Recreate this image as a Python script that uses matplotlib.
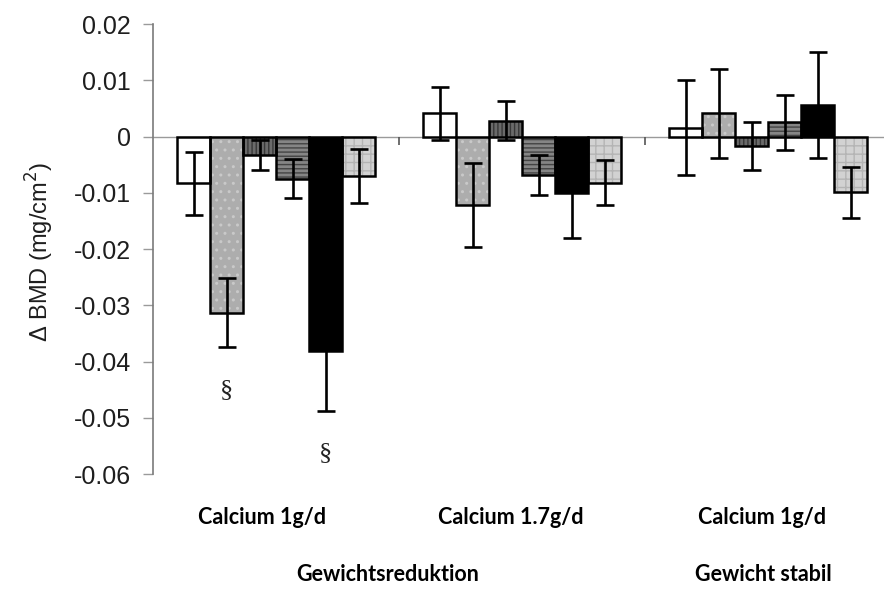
import numpy as np
import matplotlib
matplotlib.use("Agg")
import matplotlib.pyplot as plt
from matplotlib.ticker import FixedLocator, FixedFormatter

# Change in bone mineral density per group (mg/cm^2), six subgroups per condition
groups = ["Calcium 1g/d", "Calcium 1.7g/d", "Calcium 1g/d"]
conditions = ["Gewichtsreduktion", "Gewicht stabil"]

s1_mean = [-0.0083, 0.0041, 0.0016]
s1_err = [0.0056, 0.0047, 0.0085]
s2_mean = [-0.0313, -0.0122, 0.0041]
s2_err = [0.0062, 0.0075, 0.0079]
s3_mean = [-0.0033, 0.0028, -0.0017]
s3_err = [0.0027, 0.0035, 0.0042]
s4_mean = [-0.0075, -0.0068, 0.0025]
s4_err = [0.0035, 0.0036, 0.0049]
s5_mean = [-0.0382, -0.0100, 0.0056]
s5_err = [0.0106, 0.0080, 0.0094]
s6_mean = [-0.0071, -0.0082, -0.0099]
s6_err = [0.0048, 0.0040, 0.0045]

# significance markers: (group index, series index)
marked = [(0, 1), (0, 4)]

yticks = [0.02, 0.01, 0, -0.01, -0.02, -0.03, -0.04, -0.05, -0.06]
ytick_labels = ["0.02", "0.01", "0", "-0.01", "-0.02", "-0.03", "-0.04", "-0.05", "-0.06"]

means = [s1_mean, s2_mean, s3_mean, s4_mean, s5_mean, s6_mean]
errs = [s1_err, s2_err, s3_err, s4_err, s5_err, s6_err]

# fill colour, hatch pattern, hatch colour for each subgroup
styles = [
    ("white", "", "white"),
    ("#adadad", "..", "#c9c9c9"),
    ("#6a6a6a", "||||", "#383838"),
    ("#858585", "----", "#444444"),
    ("black", "", "black"),
    ("#d2d2d2", "++", "#b4b4b4"),
]

plt.rcParams["hatch.linewidth"] = 1.0

fig = plt.figure(figsize=(8.84, 5.89), dpi=100)
ax = fig.add_axes([0.1731, 0.1952, 0.8269, 0.764])

x = np.arange(len(groups))
bw = 0.134
for i, (m, e, (fc, hatch, hc)) in enumerate(zip(means, errs, styles)):
    xs = x + (i - 2.5) * bw
    ax.bar(xs, m, bw, color=fc, edgecolor=hc, hatch=hatch, linewidth=0, zorder=2)
    ax.bar(xs, m, bw, facecolor="none", edgecolor="black", linewidth=1.8, zorder=3)
    ax.errorbar(xs, m, yerr=e, fmt="none", ecolor="black", elinewidth=1.9,
                capsize=6.5, capthick=1.9, zorder=4)

for g, s in marked:
    xs = x[g] + (s - 2.5) * bw
    y = means[s][g] - errs[s][g] - 0.0075
    ax.text(xs, y, "§", ha="center", va="center", fontsize=19,
            family="Liberation Serif", color="#222222")

ax.set_xlim(-0.5, 2.47)
ax.set_ylim(-0.06, 0.02)

for side in ("top", "right"):
    ax.spines[side].set_visible(False)
ax.spines["left"].set_color("#7a7a7a")
ax.spines["left"].set_linewidth(1.2)
ax.spines["bottom"].set_position(("data", 0))
ax.spines["bottom"].set_color("#9a9a9a")
ax.spines["bottom"].set_linewidth(1.0)
ax.spines["bottom"].set_zorder(1)

ax.yaxis.set_major_locator(FixedLocator(yticks))
ax.yaxis.set_major_formatter(FixedFormatter(ytick_labels))
ax.tick_params(axis="y", direction="out", length=7, width=1.0, color="#9a9a9a",
               pad=9, labelsize=18, labelcolor="#1e1e1e")
for lab in ax.get_yticklabels():
    lab.set_family("Liberation Sans")

ax.set_xticks([0.5, 1.5])
ax.set_xticklabels(["", ""])
ax.tick_params(axis="x", direction="out", length=6, width=1.2, color="#555555")

fig.text(0.045, 0.572, "Δ BMD (mg/cm$^2$)", rotation=90, ha="center", va="center",
         fontsize=17, family="Liberation Sans", color="#1e1e1e")

label_x = [0.296, 0.578, 0.862]
for lx, name in zip(label_x, groups):
    fig.text(lx, 0.122, name, ha="center", va="center", fontsize=15.5,
             family="Lato", fontweight="bold", color="black")

cond_x = [0.439, 0.863]
for cx, name in zip(cond_x, conditions):
    fig.text(cx, 0.024, name, ha="center", va="center", fontsize=15.5,
             family="Lato", fontweight="bold", color="black")

fig.savefig("out.png", dpi=100, facecolor="white")
